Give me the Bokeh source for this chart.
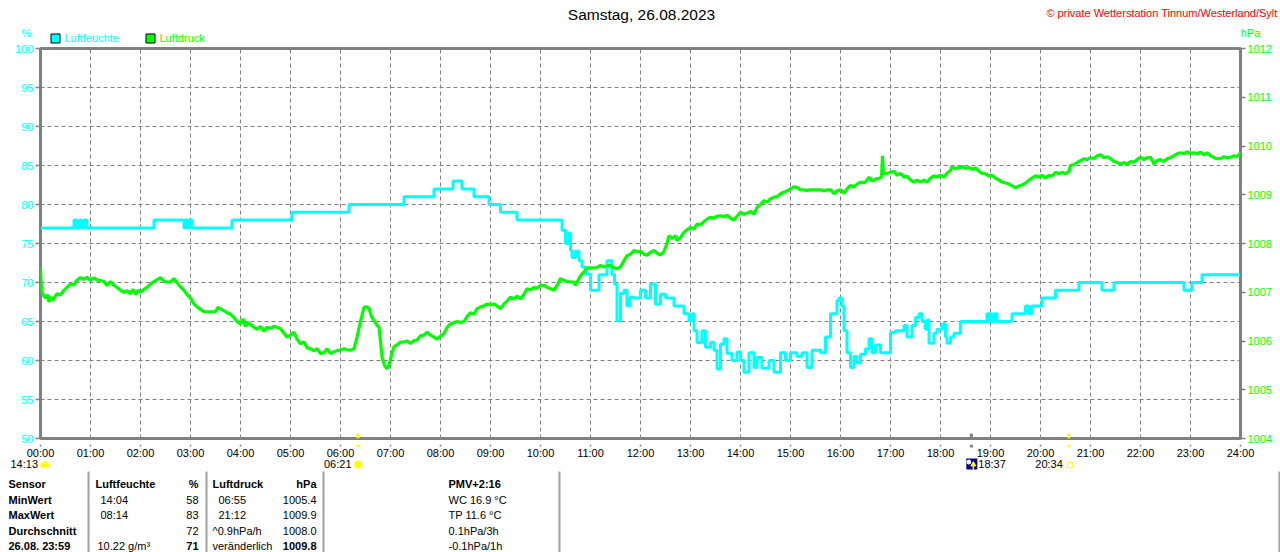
from bokeh.plotting import figure
from bokeh.layouts import column
from bokeh.models import Range1d, LinearAxis, FixedTicker, Grid
from bokeh.embed import file_html
from bokeh.resources import INLINE
from bokeh.core.properties import value

# ---------------- data ----------------
title_text = "Samstag, 26.08.2023"
copyright_text = "\u00a9 private Wetterstation Tinnum/Westerland/Sylt"
series_names = ["Luftfeuchte", "Luftdruck"]
series_units = ["%", "hPa"]
series_colors = ["#00ffff", "#00ff00"]

hour_ticks = [0, 1, 2, 3, 4, 5, 6, 7, 8, 9, 10, 11, 12, 13, 14, 15, 16, 17, 18, 19, 20, 21, 22, 23, 24]
hour_labels = ["00:00", "01:00", "02:00", "03:00", "04:00", "05:00", "06:00", "07:00", "08:00",
               "09:00", "10:00", "11:00", "12:00", "13:00", "14:00", "15:00", "16:00", "17:00",
               "18:00", "19:00", "20:00", "21:00", "22:00", "23:00", "24:00"]
hum_ticks = [50, 55, 60, 65, 70, 75, 80, 85, 90, 95, 100]
pres_ticks = [1004, 1005, 1006, 1007, 1008, 1009, 1010, 1011, 1012]

# humidity (%), step series, time in hours
hum_t = [0.00, 0.67, 0.72, 0.78, 0.82, 0.87, 0.93, 2.27, 2.87, 2.90, 2.93, 2.97, 3.03, 3.83,
         5.03, 6.17, 7.27, 7.87, 8.25, 8.43, 8.67, 8.97, 9.20, 9.53, 10.43, 10.50, 10.57,
         10.60, 10.63, 10.70, 10.77, 10.83, 10.90, 11.00, 11.07, 11.17, 11.23, 11.33, 11.43,
         11.48, 11.53, 11.60, 11.67, 11.73, 11.79, 11.87, 12.00, 12.10, 12.20, 12.30, 12.40,
         12.50, 12.67, 12.87, 12.97, 13.03, 13.07, 13.13, 13.23, 13.30, 13.40, 13.47, 13.53,
         13.60, 13.67, 13.73, 13.83, 13.93, 14.00, 14.07, 14.17, 14.27, 14.33, 14.43, 14.57,
         14.67, 14.80, 14.90, 15.00, 15.13, 15.23, 15.33, 15.43, 15.60, 15.70, 15.80, 15.93,
         15.97, 16.03, 16.07, 16.13, 16.20, 16.27, 16.33, 16.40, 16.50, 16.57, 16.63, 16.70,
         16.80, 16.93, 17.00, 17.10, 17.27, 17.33, 17.43, 17.50, 17.57, 17.63, 17.70, 17.73,
         17.77, 17.87, 17.93, 18.03, 18.10, 18.13, 18.20, 18.27, 18.40, 18.93, 18.97, 19.00,
         19.03, 19.07, 19.13, 19.43, 19.70, 19.77, 19.83, 20.03, 20.30, 20.77, 21.23, 21.47,
         22.87, 23.03, 23.23, 24.00]
hum_v = [77, 78, 77, 78, 77, 78, 77, 78, 77, 78, 77, 78, 77, 78,
         79, 80, 81, 82, 83, 82, 81, 80, 79, 78, 76.7, 75, 76.3,
         74.1, 73.2, 74, 72.8, 72, 71.1, 69, 69, 71, 71, 72.8, 71,
         69.8, 65.1, 68.6, 69, 67, 68.1, 68, 69, 68, 69.8, 67.2, 68.5,
         68, 67, 66, 65.1, 66, 63.8, 62.3, 63.8, 61.7, 62.3, 61.3, 58.9,
         62.1, 62.8, 60.9, 60, 61.1, 60, 58.5, 61, 59.1, 60.4, 59, 60,
         58.5, 61, 60, 61, 60.5, 61, 59.1, 61.3, 61, 63, 66, 67.7,
         68, 67, 63.8, 61, 59.1, 60.5, 59.7, 60.8, 61.5, 62.8, 61, 62,
         61, 61, 63.6, 63.8, 64.5, 63, 64.5, 65.5, 66, 65, 64, 65.2,
         62.2, 63.5, 64, 64.7, 63, 62.2, 63, 63.5, 65, 66, 65, 66,
         65, 66, 65, 66, 67, 66, 67, 68, 69, 70, 69, 70,
         69, 70, 71, 71]

# air pressure (hPa), time in hours
pres_t = [0.00, 0.02, 0.05, 0.10, 0.14, 0.17, 0.21, 0.25, 0.30, 0.33, 0.40, 0.47, 0.53, 0.60,
          0.67, 0.73, 0.80, 0.87, 0.93, 1.00, 1.07, 1.13, 1.20, 1.27, 1.33, 1.40, 1.47, 1.53,
          1.60, 1.67, 1.73, 1.80, 1.85, 1.90, 1.95, 2.00, 2.07, 2.13, 2.20, 2.27, 2.33, 2.40,
          2.47, 2.53, 2.60, 2.67, 2.73, 2.80, 2.87, 2.93, 3.00, 3.07, 3.13, 3.20, 3.27, 3.40,
          3.50, 3.55, 3.60, 3.67, 3.73, 3.80, 3.87, 3.93, 4.00, 4.05, 4.10, 4.15, 4.20, 4.27,
          4.33, 4.40, 4.47, 4.53, 4.60, 4.67, 4.73, 4.80, 4.87, 4.93, 5.00, 5.07, 5.13, 5.20,
          5.27, 5.33, 5.40, 5.47, 5.53, 5.60, 5.67, 5.73, 5.80, 5.87, 5.93, 6.00, 6.07, 6.13,
          6.20, 6.27, 6.33, 6.40, 6.47, 6.53, 6.57, 6.62, 6.67, 6.72, 6.77, 6.80, 6.83, 6.88,
          6.93, 6.97, 7.03, 7.07, 7.13, 7.20, 7.27, 7.33, 7.40, 7.47, 7.53, 7.60, 7.67, 7.73,
          7.80, 7.87, 7.93, 8.00, 8.07, 8.13, 8.20, 8.27, 8.33, 8.40, 8.47, 8.53, 8.60, 8.67,
          8.73, 8.80, 8.87, 8.93, 9.00, 9.07, 9.13, 9.20, 9.27, 9.33, 9.40, 9.47, 9.53, 9.60,
          9.67, 9.73, 9.80, 9.87, 9.93, 10.00, 10.07, 10.13, 10.20, 10.27, 10.33, 10.40, 10.47,
          10.53, 10.60, 10.67, 10.70, 10.75, 10.80, 10.87, 10.93, 11.00, 11.07, 11.13, 11.20,
          11.27, 11.33, 11.40, 11.47, 11.53, 11.60, 11.67, 11.73, 11.80, 11.87, 11.93, 12.00,
          12.07, 12.13, 12.20, 12.27, 12.33, 12.40, 12.47, 12.53, 12.57, 12.63, 12.70, 12.73,
          12.80, 12.87, 12.93, 13.00, 13.07, 13.13, 13.20, 13.27, 13.33, 13.40, 13.47, 13.53,
          13.60, 13.67, 13.73, 13.80, 13.87, 13.93, 14.00, 14.07, 14.13, 14.20, 14.27, 14.33,
          14.40, 14.47, 14.53, 14.60, 14.67, 14.73, 14.80, 14.87, 14.93, 15.00, 15.07, 15.13,
          15.20, 15.27, 15.33, 15.40, 15.47, 15.53, 15.60, 15.67, 15.73, 15.80, 15.87, 15.93,
          16.00, 16.07, 16.13, 16.20, 16.27, 16.33, 16.40, 16.47, 16.53, 16.57, 16.63, 16.70,
          16.77, 16.82, 16.84, 16.86, 16.93, 17.00, 17.07, 17.13, 17.20, 17.27, 17.33, 17.40,
          17.47, 17.53, 17.60, 17.67, 17.73, 17.80, 17.87, 17.93, 18.00, 18.07, 18.13, 18.20,
          18.23, 18.30, 18.37, 18.43, 18.50, 18.57, 18.63, 18.70, 18.77, 18.83, 18.90, 18.97,
          19.03, 19.10, 19.17, 19.23, 19.30, 19.37, 19.43, 19.50, 19.57, 19.63, 19.70, 19.77,
          19.83, 19.90, 19.97, 20.03, 20.10, 20.17, 20.23, 20.30, 20.37, 20.43, 20.50, 20.57,
          20.60, 20.67, 20.73, 20.80, 20.87, 20.93, 21.00, 21.07, 21.13, 21.20, 21.27, 21.33,
          21.40, 21.47, 21.53, 21.60, 21.67, 21.73, 21.80, 21.87, 21.93, 22.00, 22.07, 22.13,
          22.20, 22.27, 22.33, 22.40, 22.47, 22.53, 22.60, 22.67, 22.73, 22.80, 22.87, 22.93,
          23.00, 23.07, 23.13, 23.20, 23.27, 23.33, 23.40, 23.47, 23.53, 23.60, 23.67, 23.73,
          23.80, 23.87, 23.93, 24.00]
pres_v = [1007.51, 1007.05, 1006.95, 1006.88, 1006.95, 1006.80, 1006.90, 1006.84, 1006.93, 1006.97,
          1006.95, 1007.04, 1007.10, 1007.17, 1007.15, 1007.25, 1007.30, 1007.26, 1007.31, 1007.24,
          1007.30, 1007.25, 1007.24, 1007.22, 1007.14, 1007.22, 1007.14, 1007.10, 1007.04, 1007.00,
          1007.03, 1006.97, 1007.06, 1006.95, 1007.04, 1007.00, 1007.06, 1007.10, 1007.17, 1007.22,
          1007.26, 1007.30, 1007.22, 1007.21, 1007.21, 1007.28, 1007.20, 1007.11, 1007.04, 1006.95,
          1006.88, 1006.76, 1006.70, 1006.65, 1006.60, 1006.60, 1006.60, 1006.69, 1006.66, 1006.62,
          1006.58, 1006.55, 1006.48, 1006.40, 1006.35, 1006.45, 1006.30, 1006.38, 1006.34, 1006.28,
          1006.24, 1006.30, 1006.20, 1006.28, 1006.26, 1006.30, 1006.28, 1006.25, 1006.16, 1006.08,
          1006.12, 1006.18, 1006.04, 1005.94, 1005.98, 1005.86, 1005.84, 1005.80, 1005.84, 1005.74,
          1005.76, 1005.84, 1005.74, 1005.78, 1005.80, 1005.82, 1005.84, 1005.82, 1005.81, 1005.84,
          1006.08, 1006.40, 1006.69, 1006.70, 1006.67, 1006.50, 1006.42, 1006.34, 1006.28, 1006.00,
          1005.67, 1005.50, 1005.43, 1005.50, 1005.75, 1005.88, 1005.92, 1005.98, 1005.98, 1006.00,
          1005.95, 1006.01, 1006.02, 1006.11, 1006.12, 1006.18, 1006.12, 1006.08, 1006.04, 1006.10,
          1006.15, 1006.28, 1006.35, 1006.38, 1006.40, 1006.38, 1006.40, 1006.50, 1006.58, 1006.55,
          1006.66, 1006.70, 1006.72, 1006.76, 1006.74, 1006.76, 1006.72, 1006.66, 1006.76, 1006.82,
          1006.90, 1006.86, 1006.92, 1006.86, 1006.96, 1007.07, 1007.05, 1007.10, 1007.08, 1007.14,
          1007.14, 1007.10, 1007.07, 1007.04, 1007.14, 1007.28, 1007.24, 1007.22, 1007.21, 1007.21,
          1007.14, 1007.24, 1007.34, 1007.42, 1007.50, 1007.50, 1007.50, 1007.51, 1007.55, 1007.52,
          1007.54, 1007.55, 1007.50, 1007.48, 1007.52, 1007.65, 1007.75, 1007.78, 1007.86, 1007.83,
          1007.84, 1007.78, 1007.76, 1007.82, 1007.86, 1007.80, 1007.76, 1007.84, 1008.00, 1008.16,
          1008.10, 1008.16, 1008.06, 1008.12, 1008.23, 1008.28, 1008.33, 1008.30, 1008.40, 1008.38,
          1008.45, 1008.50, 1008.54, 1008.52, 1008.56, 1008.57, 1008.55, 1008.58, 1008.52, 1008.48,
          1008.56, 1008.64, 1008.60, 1008.62, 1008.66, 1008.60, 1008.74, 1008.80, 1008.88, 1008.85,
          1008.92, 1008.95, 1008.96, 1009.02, 1009.05, 1009.08, 1009.12, 1009.16, 1009.15, 1009.10,
          1009.10, 1009.09, 1009.10, 1009.10, 1009.10, 1009.10, 1009.08, 1009.10, 1009.10, 1009.02,
          1009.08, 1009.10, 1009.03, 1009.12, 1009.19, 1009.16, 1009.22, 1009.26, 1009.24, 1009.30,
          1009.36, 1009.28, 1009.32, 1009.34, 1009.36, 1009.80, 1009.43, 1009.44, 1009.46, 1009.48,
          1009.40, 1009.44, 1009.36, 1009.38, 1009.30, 1009.26, 1009.30, 1009.26, 1009.30, 1009.26,
          1009.34, 1009.39, 1009.36, 1009.40, 1009.36, 1009.44, 1009.50, 1009.57, 1009.54, 1009.55,
          1009.58, 1009.54, 1009.56, 1009.52, 1009.55, 1009.48, 1009.44, 1009.43, 1009.38, 1009.40,
          1009.34, 1009.30, 1009.26, 1009.24, 1009.22, 1009.18, 1009.14, 1009.18, 1009.20, 1009.24,
          1009.30, 1009.34, 1009.39, 1009.36, 1009.40, 1009.34, 1009.40, 1009.38, 1009.46, 1009.43,
          1009.46, 1009.43, 1009.48, 1009.60, 1009.62, 1009.66, 1009.70, 1009.74, 1009.72, 1009.76,
          1009.74, 1009.80, 1009.82, 1009.76, 1009.78, 1009.74, 1009.68, 1009.66, 1009.63, 1009.66,
          1009.62, 1009.68, 1009.67, 1009.72, 1009.77, 1009.72, 1009.76, 1009.77, 1009.63, 1009.70,
          1009.72, 1009.68, 1009.74, 1009.76, 1009.80, 1009.84, 1009.86, 1009.84, 1009.88, 1009.85,
          1009.86, 1009.84, 1009.87, 1009.82, 1009.86, 1009.80, 1009.76, 1009.74, 1009.74, 1009.78,
          1009.76, 1009.77, 1009.80, 1009.78, 1009.86]

# sun / moon events
moonset_time = "14:13"
sunrise_time = "06:21"
moonrise_time = "18:37"
sunset_time = "20:34"

# statistics table
row_heads = ["Sensor", "MinWert", "MaxWert", "Durchschnitt", "26.08. 23:59"]
hum_col_a = ["Luftfeuchte", "14:04", "08:14", "", "10.22 g/m\u00b3"]
hum_col_b = ["%", "58", "83", "72", "71"]
pres_col_a = ["Luftdruck", "06:55", "21:12", "^0.9hPa/h", "ver\u00e4nderlich"]
pres_col_b = ["hPa", "1005.4", "1009.9", "1008.0", "1009.8"]
extra_col = ["PMV+2:16", "WC 16.9 \u00b0C", "TP 11.6 \u00b0C", "0.1hPa/3h", "-0.1hPa/1h"]

# ---------------- layout constants (page pixels) ----------------
FONT = "Liberation Sans"
GRAY = "#808080"
YELLOW = "#ffff00"
W = 1280
HEAD_H = 44                       # page y 0..44
MAIN_H = 4 + 390 + 6              # page y 44..444 (frame 48..438)
FOOT_TOP = HEAD_H + MAIN_H        # 444
FOOT_H = 552 - FOOT_TOP           # page y 444..552
FRAME_L, FRAME_R = 40, 1240
PX_PER_H = (FRAME_R - FRAME_L) / 24.0


def hours(s):
    h, m = s.split(":")
    return int(h) + int(m) / 60.0


def hx(X):
    """page pixel x -> hours on the shared time scale"""
    return (X - FRAME_L) / PX_PER_H


def txt(f, s, x, Y, color="black", size="11px", bold=False, align="left", font=FONT):
    # Y = vertical centre of the text line (page pixels)
    f.text(x=[x], y=[Y], text=[s], text_color=color, text_font=value(font),
           text_font_size=value(size), text_font_style="bold" if bold else "normal",
           text_align=align, text_baseline="middle")


def bare(height, x_range, y_range):
    f = figure(width=W, height=height, x_range=x_range, y_range=y_range,
               x_axis_location=None, y_axis_location=None, output_backend="svg",
               toolbar_location=None, min_border=0, min_border_left=0, min_border_right=0,
               min_border_top=0, min_border_bottom=0, frame_align=False,
               background_fill_color="white", border_fill_color="white")
    f.outline_line_color = None
    f.grid.visible = False
    return f


# ---------------- header (pixel coordinates) ----------------
head = bare(HEAD_H, Range1d(0, W), Range1d(HEAD_H, 0))
txt(head, title_text, 641, 13.5, size="15.5px", align="center")
txt(head, copyright_text, 1277, 12, color="#ff0000", align="right")
txt(head, series_units[0], 26, 32.5, color=series_colors[0], align="center")
txt(head, series_units[1], 1250, 32.5, color=series_colors[1], align="center")
head.quad(left=[50.5], right=[59.5], top=[33.5], bottom=[42.5], fill_color=series_colors[0],
          line_color="black", line_width=1)
txt(head, series_names[0], 64, 37.5, color=series_colors[0])
head.quad(left=[145.5], right=[154.5], top=[33.5], bottom=[42.5], fill_color=series_colors[1],
          line_color="black", line_width=1)
txt(head, series_names[1], 159, 37.5, color=series_colors[1])

# ---------------- main chart ----------------
p = figure(width=W, height=MAIN_H, x_range=Range1d(hour_ticks[0], hour_ticks[-1]),
           y_range=Range1d(hum_ticks[0], hum_ticks[-1]), x_axis_location=None,
           min_border_left=40, min_border_right=40, min_border_top=4, min_border_bottom=6,
           output_backend="svg", toolbar_location=None, title=None, frame_align=False,
           background_fill_color="white", border_fill_color="white")
p.extra_y_ranges = {"p": Range1d(pres_ticks[0], pres_ticks[-1])}
p.outline_line_color = GRAY
p.outline_line_width = 3
p.outline_line_alpha = 1


def style_axis(ax, color, tick_out=5, standoff=2):
    ax.axis_line_color = None
    ax.major_tick_line_color = GRAY
    ax.major_tick_line_width = 1.5
    ax.major_tick_out = tick_out
    ax.major_tick_in = 0
    ax.minor_tick_line_color = None
    ax.major_label_text_color = color
    ax.major_label_text_font = FONT
    ax.major_label_text_font_size = "11px"
    ax.major_label_standoff = standoff


p.yaxis.ticker = FixedTicker(ticks=hum_ticks)
style_axis(p.yaxis[0], series_colors[0], tick_out=5, standoff=2)

right_axis = LinearAxis(y_range_name="p", ticker=FixedTicker(ticks=pres_ticks))
style_axis(right_axis, series_colors[1], tick_out=5, standoff=2)
p.add_layout(right_axis, "right")

for g in list(p.grid):
    g.visible = False
xg = Grid(dimension=0, ticker=FixedTicker(ticks=hour_ticks[1:-1]))
yg = Grid(dimension=1, ticker=FixedTicker(ticks=hum_ticks[1:-1]))
for g in (xg, yg):
    g.grid_line_color = GRAY
    g.grid_line_dash = "4 3"
    g.grid_line_width = 1
    g.grid_line_alpha = 1
    p.add_layout(g, "center")

# data series
p.step(hum_t, hum_v, mode="after", line_color=series_colors[0], line_width=3)
p.line(pres_t, pres_v, y_range_name="p", line_color=series_colors[1], line_width=3.2)

# upper part of the sunrise / moonrise / sunset marks (inside the frame)
ev_t = [hours(sunrise_time), hours(moonrise_time), hours(sunset_time)]
ev_col = [YELLOW, GRAY, YELLOW]
mark_top = hum_ticks[0] + 5 * (hum_ticks[-1] - hum_ticks[0]) / 390.0
p.segment(x0=ev_t, y0=[hum_ticks[0]] * 3, x1=ev_t, y1=[mark_top] * 3, line_color=ev_col,
          line_width=3)

# ---------------- footer: time axis, events, statistics table ----------------
foot = bare(FOOT_H, Range1d(hx(0), hx(W)), Range1d(552, FOOT_TOP))

time_axis = LinearAxis(ticker=FixedTicker(ticks=hour_ticks), fixed_location=FOOT_TOP)
time_axis.major_label_overrides = {t: l for t, l in zip(hour_ticks, hour_labels)}
style_axis(time_axis, "black", tick_out=2, standoff=0)
foot.add_layout(time_axis, "below")

# lower part of the event marks
foot.segment(x0=ev_t, y0=[FOOT_TOP] * 3, x1=ev_t, y1=[447] * 3, line_color=ev_col, line_width=3)

px = 1.0 / PX_PER_H   # one pixel in hours
EV_Y = 463.5

# moonset (left edge)
txt(foot, moonset_time, hx(10), EV_Y)
foot.quad(left=[hx(40), hx(42)], right=[hx(49), hx(47)], top=[463, 461], bottom=[467, 463],
          fill_color=YELLOW, line_color=None)

# sunrise
t_sr = hours(sunrise_time)
txt(foot, sunrise_time, t_sr - 6.5 * px, EV_Y, align="right")
foot.scatter(x=[t_sr], y=[464], marker="asterisk", size=11, line_color="#ffff99", line_width=1)
foot.scatter(x=[t_sr], y=[464], marker="circle", size=7, fill_color=YELLOW, line_color=YELLOW)

# moonrise
t_mr = hours(moonrise_time)
foot.quad(left=[t_mr - 5 * px], right=[t_mr + 6 * px], top=[458], bottom=[469],
          fill_color="#000080", line_color=None)
foot.scatter(x=[t_mr - 2.5 * px], y=[461.5], marker="circle", size=4, fill_color="white",
             line_color="white")
foot.scatter(x=[t_mr + 2 * px], y=[464], marker="triangle", size=5, fill_color=YELLOW,
             line_color=YELLOW)
foot.segment(x0=[t_mr + 2 * px], y0=[465], x1=[t_mr + 2 * px], y1=[469], line_color=YELLOW,
             line_width=1.5)
txt(foot, moonrise_time, t_mr + 7 * px, EV_Y)

# sunset
t_ss = hours(sunset_time)
txt(foot, sunset_time, t_ss - 6 * px, EV_Y, align="right")
foot.quad(left=[t_ss - 1.5 * px], right=[t_ss + 3.5 * px], top=[462], bottom=[467],
          fill_color=None, line_color=YELLOW, line_width=1)

# table separators
sep_x = [hx(v) for v in (88, 206, 323, 559, 1279)]
foot.segment(x0=sep_x, y0=[471] * len(sep_x), x1=sep_x, y1=[560] * len(sep_x),
             line_color="#a0a0a0", line_width=2)

row_mid = [483.5, 499, 514.5, 530, 545]
for i in range(len(row_heads)):
    Y = row_mid[i]
    head_row = (i == 0)
    last_row = (i == len(row_heads) - 1)
    txt(foot, row_heads[i], hx(8), Y, bold=True)
    if hum_col_a[i]:
        xa = 95 if head_row else (97 if last_row else 100)
        txt(foot, hum_col_a[i], hx(xa), Y, bold=head_row)
    txt(foot, hum_col_b[i], hx(198), Y, bold=head_row or last_row, align="right")
    xb = 212 if (head_row or i >= 3) else 218
    txt(foot, pres_col_a[i], hx(xb), Y, bold=head_row)
    txt(foot, pres_col_b[i], hx(316), Y, bold=head_row or last_row, align="right")
    txt(foot, extra_col[i], hx(448), Y, bold=head_row)

layout = column(head, p, foot, spacing=0)
open("out.html", "w").write(file_html(layout, INLINE))
